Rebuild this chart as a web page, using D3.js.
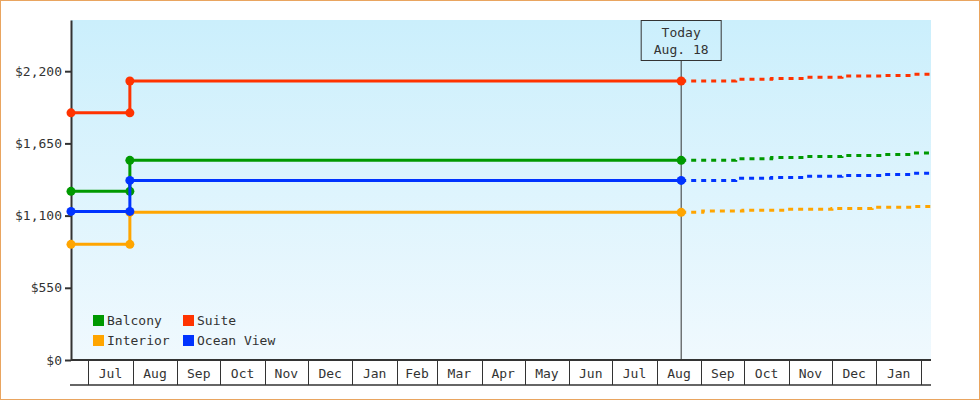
<!DOCTYPE html>
<html lang="en">
<head>
  <meta charset="UTF-8">
  <title>Cabin Prices</title>
  <script src="https://d3js.org/d3.v7.min.js"></script>
  <style>
    body { margin: 0; background: #fff; }
    svg { display: block; font-family: "DejaVu Sans Mono", monospace; font-size: 13px; }
    .axis text { fill: #333; font-family: "DejaVu Sans Mono", monospace; font-size: 13px; }
  </style>
</head>
<body>
  <svg id="chart" width="980" height="400"></svg>

  <script>
    const parse = d3.timeParse("%Y-%m-%d");

    // x domain and tick data
    const domainDates = ["2013-06-19", "2015-02-08"];
    const todayDate = "2014-08-18";
    const todayLabel = ["Today", "Aug. 18"];
    const yTicks = [0, 550, 1100, 1650, 2200];
    const yMax = 2590;

    // history: start, price change, today
    const historyDates = ["2013-06-19", "2013-07-30", "2014-08-18"];
    // forecast steps after today
    const forecastDates = ["2014-08-18", "2014-09-25", "2014-10-20", "2014-11-13", "2014-12-08", "2015-01-05", "2015-01-27", "2015-02-08"];
    const interiorForecastDates = ["2014-08-18", "2014-09-02", "2014-09-30", "2014-10-30", "2014-12-01", "2014-12-29", "2015-01-26", "2015-02-08"];

    const seriesNames = ["Balcony", "Suite", "Interior", "Ocean View"];
    const seriesColors = ["#009900", "#ff3300", "#ffa500", "#0033ff"];

    const balconyHistory = [1285, 1521, 1521];
    const suiteHistory = [1883, 2125, 2125];
    const interiorHistory = [881, 1125, 1125];
    const oceanHistory = [1132, 1368, 1368];

    const balconyForecast = [1521, 1534, 1542, 1550, 1558, 1566, 1576, 1576];
    const suiteForecast = [2125, 2138, 2145, 2153, 2163, 2168, 2176, 2176];
    const interiorForecast = [1125, 1135, 1140, 1148, 1155, 1163, 1170, 1170];
    const oceanForecast = [1368, 1384, 1391, 1399, 1406, 1414, 1422, 1422];

    const histories = [balconyHistory, suiteHistory, interiorHistory, oceanHistory];
    const forecasts = [balconyForecast, suiteForecast, interiorForecast, oceanForecast];
    const forecastDateSets = [forecastDates, forecastDates, interiorForecastDates, forecastDates];

    const margin = { top: 20, right: 49, bottom: 40, left: 71 };
    const width = 980 - margin.left - margin.right;
    const height = 400 - margin.top - margin.bottom;

    const svg = d3.select("#chart");

    // outer frame
    svg.append("rect")
      .attr("x", 0.5).attr("y", 0.5)
      .attr("width", 979).attr("height", 399)
      .attr("fill", "#fff")
      .attr("stroke", "#e9a560");

    const defs = svg.append("defs");
    const grad = defs.append("linearGradient")
      .attr("id", "bg")
      .attr("x1", 0).attr("y1", 0).attr("x2", 0).attr("y2", 1);
    grad.append("stop").attr("offset", "0%").attr("stop-color", "#cbeffc");
    grad.append("stop").attr("offset", "100%").attr("stop-color", "#f0f9fe");

    const g = svg.append("g")
      .attr("transform", `translate(${margin.left}, ${margin.top})`);

    const x = d3.scaleTime()
      .domain(domainDates.map(parse))
      .range([0, width]);

    const y = d3.scaleLinear()
      .domain([0, yMax])
      .range([height, 0]);

    g.append("rect")
      .attr("width", width)
      .attr("height", height)
      .attr("fill", "url(#bg)");

    // x axis: month cells
    const months = d3.timeMonth.range(d3.timeMonth.ceil(x.domain()[0]), x.domain()[1]);

    const xAxis = g.append("g")
      .attr("class", "axis")
      .attr("transform", `translate(0, ${height})`)
      .call(d3.axisBottom(x).tickValues(months).tickSize(25).tickSizeOuter(0).tickFormat(""));
    xAxis.select(".domain").remove();
    xAxis.selectAll(".tick line").attr("stroke", "#333").attr("shape-rendering", "crispEdges");

    g.append("line")
      .attr("x1", 0).attr("x2", width)
      .attr("y1", height).attr("y2", height)
      .attr("stroke", "#333").attr("stroke-width", 2);
    g.append("line")
      .attr("x1", -1).attr("x2", width)
      .attr("y1", height + 25).attr("y2", height + 25)
      .attr("stroke", "#333").attr("stroke-width", 1.5);

    g.append("g")
      .selectAll("text")
      .data(months.slice(0, -1))
      .enter().append("text")
      .attr("x", d => (x(d) + x(d3.timeMonth.offset(d, 1))) / 2)
      .attr("y", height + 18)
      .attr("text-anchor", "middle")
      .attr("fill", "#333")
      .text(d3.timeFormat("%b"));

    // y axis
    const yAxis = g.append("g")
      .attr("class", "axis")
      .call(d3.axisLeft(y).tickValues(yTicks).tickSize(6).tickSizeOuter(0).tickPadding(3).tickFormat(d3.format("$,")));
    yAxis.select(".domain").attr("stroke", "#333").attr("stroke-width", 2);
    yAxis.selectAll(".tick line").attr("stroke", "#333").attr("stroke-width", 2);

    // today marker
    const tx = x(parse(todayDate));
    g.append("line")
      .attr("x1", tx).attr("x2", tx)
      .attr("y1", 40).attr("y2", height)
      .attr("stroke", "#333").attr("stroke-width", 1);
    g.append("rect")
      .attr("x", tx - 40).attr("y", 0.5)
      .attr("width", 80).attr("height", 40)
      .attr("fill", "none")
      .attr("stroke", "#333");
    g.append("g")
      .selectAll("text")
      .data(todayLabel)
      .enter().append("text")
      .attr("x", tx)
      .attr("y", (d, i) => 17 + i * 17)
      .attr("text-anchor", "middle")
      .attr("fill", "#333")
      .text(d => d);

    const line = d3.line()
      .curve(d3.curveStepAfter)
      .x(d => x(d.date))
      .y(d => y(d.value));

    seriesNames.forEach((name, s) => {
      const hist = historyDates.map((d, i) => ({ date: parse(d), value: histories[s][i] }));
      const fc = forecastDateSets[s].map((d, i) => ({ date: parse(d), value: forecasts[s][i] }));

      g.append("path")
        .datum(fc)
        .attr("fill", "none")
        .attr("stroke", seriesColors[s])
        .attr("stroke-width", 3)
        .attr("stroke-dasharray", "5,5")
        .attr("d", line);

      g.append("path")
        .datum(hist)
        .attr("fill", "none")
        .attr("stroke", seriesColors[s])
        .attr("stroke-width", 3)
        .attr("d", line);

      // dots at each corner of the step
      const dots = [hist[0], { date: hist[1].date, value: hist[0].value }, hist[1], hist[2]];
      g.selectAll(".dot-" + s)
        .data(dots)
        .enter().append("circle")
        .attr("cx", d => x(d.date))
        .attr("cy", d => y(d.value))
        .attr("r", 4.5)
        .attr("fill", seriesColors[s]);
    });

    // legend
    const legend = svg.append("g")
      .attr("transform", "translate(93, 315)");
    const item = legend.selectAll("g")
      .data(seriesNames)
      .enter().append("g")
      .attr("transform", (d, i) => `translate(${(i % 2) * 90}, ${Math.floor(i / 2) * 20})`);
    item.append("rect")
      .attr("width", 11).attr("height", 11)
      .attr("fill", (d, i) => seriesColors[i]);
    item.append("text")
      .attr("x", 14)
      .attr("y", 10)
      .attr("fill", "#333")
      .text(d => d);
  </script>
</body>
</html>
